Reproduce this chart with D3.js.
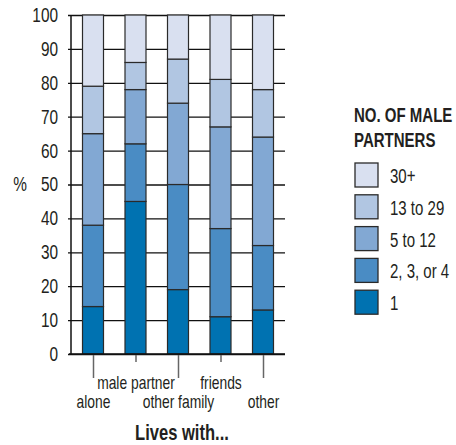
<!DOCTYPE html>
<html>
<head>
<meta charset="utf-8">
<script src="https://cdn.jsdelivr.net/npm/d3@7"></script>
<style>
  html, body { margin: 0; padding: 0; background: #fff; }
  svg { display: block; }
  text { font-family: "Liberation Sans", Arial, sans-serif; fill: #231f20; }
</style>
</head>
<body>
<svg id="chart" width="456" height="445"></svg>
<script>
// ---- data ----
const categories = ["alone", "male partner", "other family", "friends", "other"];
const seriesNames = ["1", "2, 3, or 4", "5 to 12", "13 to 29", "30+"];
const s1      = [14, 45, 19, 11, 13];
const s2to4   = [24, 17, 31, 26, 19];
const s5to12  = [27, 16, 24, 30, 32];
const s13to29 = [14,  8, 13, 14, 14];
const s30plus = [21, 14, 13, 19, 22];
const yTicks = [0, 10, 20, 30, 40, 50, 60, 70, 80, 90, 100];
const legendTitle = ["NO. OF MALE", "PARTNERS"];
const xTitle = "Lives with...";
const yTitle = "%";

const colors = ["#0072b1", "#4a8cc4", "#82a8d3", "#b1c6e2", "#d9e0f0"];

// ---- build ----
const svg = d3.select("#chart");
const rows = categories.map((c, i) => ({
  cat: c, "1": s1[i], "2, 3, or 4": s2to4[i], "5 to 12": s5to12[i],
  "13 to 29": s13to29[i], "30+": s30plus[i]
}));
const stack = d3.stack().keys(seriesNames)(rows);

const plotLeft = 71, plotRight = 285, yTop = 15, yBottom = 354;
const x = d3.scalePoint().domain(categories).range([93, 263]);
const y = d3.scaleLinear().domain([0, 100]).range([yBottom, yTop]);
const barW = 21;

// gridlines + y labels (axis placed at right edge, ticks extend left)
const yAxis = svg.append("g")
  .attr("transform", `translate(${plotRight},0)`)
  .call(d3.axisLeft(y).tickValues(yTicks).tickSize(plotRight - 68).tickPadding(10));
yAxis.select(".domain").remove();
yAxis.selectAll(".tick line").attr("stroke", "#111").attr("stroke-width", 1.3);
yAxis.selectAll(".tick text")
  .attr("font-size", 20).attr("fill", "#231f20")
  .style("font-family", "'Liberation Sans', Arial, sans-serif");

// bars
svg.append("g").selectAll("g")
  .data(stack).join("g")
  .attr("fill", (d, i) => colors[i])
  .selectAll("rect")
  .data(d => d).join("rect")
  .attr("x", d => x(d.data.cat) - barW / 2)
  .attr("width", barW)
  .attr("y", d => y(d[1]))
  .attr("height", d => y(d[0]) - y(d[1]))
  .attr("stroke", "#2a2a2a")
  .attr("stroke-width", 1.2);

// y axis line
svg.append("line")
  .attr("x1", plotLeft).attr("x2", plotLeft)
  .attr("y1", yTop).attr("y2", yBottom)
  .attr("stroke", "#111").attr("stroke-width", 1.5);

// x axis
const xAxis = svg.append("g")
  .attr("transform", `translate(0,${yBottom})`)
  .call(d3.axisBottom(x).tickSize(0).tickFormat(""));
xAxis.select(".domain").remove();
svg.append("line")
  .attr("x1", 69).attr("x2", plotRight)
  .attr("y1", yBottom).attr("y2", yBottom)
  .attr("stroke", "#111").attr("stroke-width", 1.5);
xAxis.selectAll(".tick").append("line")
  .attr("y1", 1).attr("y2", (d, i) => i % 2 === 0 ? 24 : 8)
  .attr("stroke", "#666").attr("stroke-width", 1.5);
xAxis.selectAll(".tick").append("text")
  .attr("x", 0)
  .attr("y", (d, i) => i % 2 === 0 ? 54 : 35)
  .attr("text-anchor", "middle")
  .attr("font-size", 18)
  .attr("fill", "#231f20")
  .text(d => d);

// axis titles
svg.append("text")
  .attr("x", 182).attr("y", 440)
  .attr("text-anchor", "middle")
  .attr("font-size", 21.5).attr("font-weight", "bold")
  .text(xTitle);
svg.append("text")
  .attr("x", 20).attr("y", y(50) + 7)
  .attr("text-anchor", "middle")
  .attr("font-size", 20)
  .text(yTitle);

// legend
const lg = svg.append("g");
lg.selectAll("text.title").data(legendTitle).join("text")
  .attr("class", "title")
  .attr("x", 354).attr("y", (d, i) => 122 + i * 25)
  .attr("font-size", 19.5).attr("font-weight", "bold")
  .text(d => d);
const legendItems = seriesNames.map((n, i) => ({ name: n, color: colors[i] })).reverse();
const li = lg.selectAll("g.item").data(legendItems).join("g")
  .attr("class", "item")
  .attr("transform", (d, i) => `translate(355,${163 + i * 31.8})`);
li.append("rect")
  .attr("width", 23).attr("height", 24)
  .attr("fill", d => d.color)
  .attr("stroke", "#2a2a2a").attr("stroke-width", 1.3);
li.append("text")
  .attr("x", 35).attr("y", 20)
  .attr("font-size", 19.5)
  .text(d => d.name);

// condense all text horizontally (about its anchor) to mimic a condensed typeface
const squeeze = 0.77;
svg.selectAll("text").each(function () {
  const ax = +this.getAttribute("x") || 0;
  this.setAttribute("transform",
    `translate(${ax},0) scale(${squeeze},1) translate(${-ax},0)`);
});
</script>
</body>
</html>
